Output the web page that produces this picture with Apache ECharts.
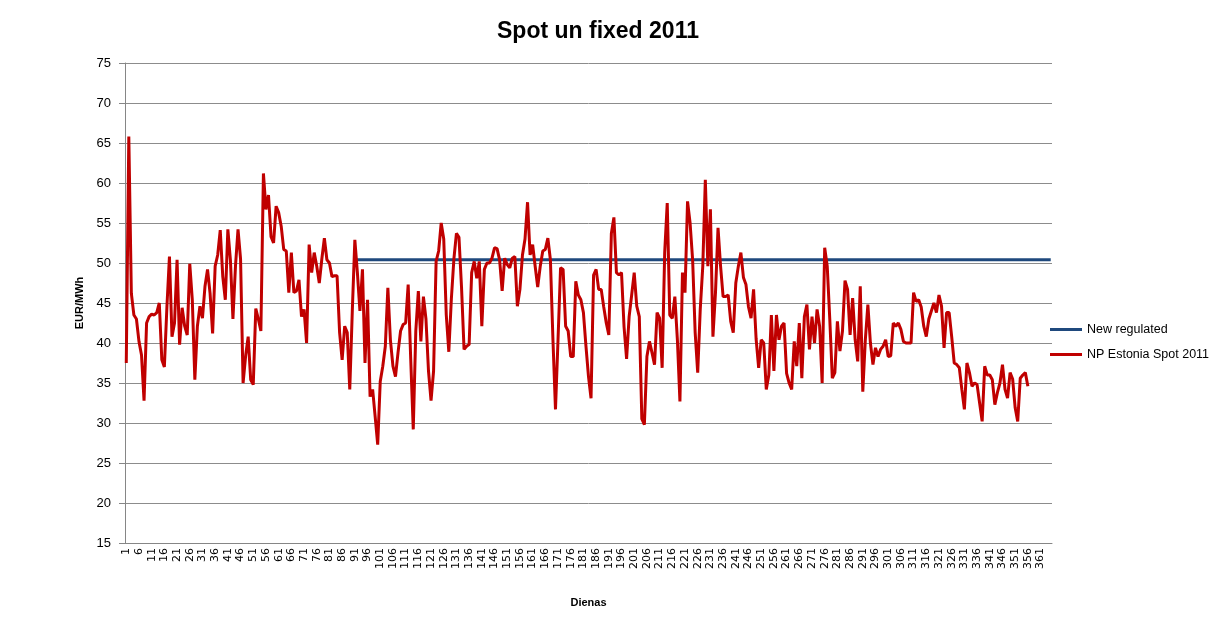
<!DOCTYPE html>
<html>
<head>
<meta charset="utf-8">
<title>Spot un fixed 2011</title>
<script src="https://cdn.jsdelivr.net/npm/echarts@6/dist/echarts.min.js"></script>
<style>
  html, body { margin: 0; padding: 0; background: #fff; }
  #main { width: 1218px; height: 619px; }
</style>
</head>
<body>
<div id="main"></div>
<script>
// dienas 1..365
var days = [];
for (var i = 1; i <= 365; i++) days.push(String(i));

// NP Estonia spot, EUR/MWh, day 1..356
var spot2011 = [
  37.5, 65.8, 46.2, 43.5, 43.0, 40.2, 38.5, 32.8, 42.5, 43.3,
  43.6, 43.5, 43.8, 45.0, 37.9, 37.0, 44.5, 50.8, 40.8, 42.5,
  50.4, 39.8, 44.4, 42.1, 41.0, 49.9, 45.4, 35.4, 42.1, 44.6,
  43.1, 47.1, 49.2, 46.2, 41.2, 49.6, 51.0, 54.1, 48.3, 45.4,
  54.2, 50.4, 43.0, 49.6, 54.2, 50.5, 35.0, 38.4, 40.8, 35.4,
  34.8, 44.3, 43.0, 41.5, 61.2, 56.7, 58.5, 53.3, 52.5, 57.1,
  56.3, 54.6, 51.7, 51.5, 46.3, 51.3, 46.3, 46.5, 47.9, 43.3,
  44.2, 40.0, 52.3, 48.8, 51.3, 49.6, 47.5, 50.5, 53.1, 50.4,
  50.0, 48.3, 48.4, 48.4, 41.3, 37.9, 42.1, 41.3, 34.2, 44.0,
  52.9, 48.8, 44.0, 49.2, 37.5, 45.4, 33.3, 34.2, 30.8, 27.3,
  35.2, 37.1, 39.6, 46.9, 40.4, 37.1, 35.8, 38.8, 41.5, 42.3,
  42.5, 47.3, 38.0, 29.2, 41.5, 46.5, 40.2, 45.8, 43.0, 36.5,
  32.8, 36.5, 50.2, 51.5, 55.0, 53.0, 43.5, 38.9, 45.5, 50.5,
  53.7, 53.2, 47.0, 39.2, 39.6, 39.8, 48.8, 50.2, 48.1, 50.2,
  42.1, 49.2, 50.0, 50.0, 50.6, 51.9, 51.8, 50.4, 46.5, 50.6,
  49.8, 49.4, 50.6, 50.8, 44.6, 46.7, 51.0, 53.0, 57.6, 51.0,
  52.3, 49.6, 47.0, 49.6, 51.5, 51.7, 53.1, 50.4, 40.4, 31.7,
  40.4, 49.4, 49.2, 42.1, 41.5, 38.3, 38.3, 47.7, 46.0, 45.4,
  43.8, 39.6, 35.8, 33.1, 48.5, 49.2, 46.7, 46.7, 44.5, 42.5,
  41.0, 53.7, 55.7, 48.8, 48.5, 48.8, 42.0, 38.0, 43.3, 46.0,
  48.8, 44.6, 43.3, 30.5, 29.8, 38.3, 40.2, 38.8, 37.3, 43.8,
  43.1, 36.9, 51.3, 57.5, 43.5, 43.1, 45.8, 40.4, 32.7, 48.8,
  46.3, 57.7, 55.0, 50.4, 41.3, 36.3, 44.2, 49.6, 60.4, 49.6,
  56.7, 40.8, 46.3, 54.4, 49.6, 45.8, 45.8, 46.0, 42.7, 41.3,
  47.5, 49.6, 51.3, 48.2, 47.3, 44.5, 43.1, 46.7, 40.5, 36.9,
  40.4, 40.0, 34.2, 36.0, 43.5, 36.5, 43.5, 40.4, 42.1, 42.5,
  36.2, 35.0, 34.2, 40.2, 37.1, 42.5, 35.6, 43.3, 44.8, 39.2,
  43.3, 40.0, 44.2, 42.1, 35.0, 51.9, 49.6, 43.0, 35.6, 36.3,
  42.7, 39.0, 41.5, 47.8, 46.7, 41.0, 45.6, 40.4, 37.7, 47.1,
  33.9, 40.4, 44.8, 40.0, 37.3, 39.4, 38.3, 39.2, 39.6, 40.4,
  38.3, 38.4, 42.5, 42.1, 42.5, 41.7, 40.2, 40.0, 40.0, 40.0,
  46.3, 45.2, 45.4, 44.5, 42.1, 40.8, 43.0, 44.0, 45.0, 43.8,
  46.0, 44.6, 39.4, 43.8, 43.8, 40.8, 37.5, 37.3, 36.9, 34.2,
  31.7, 37.5, 36.3, 34.6, 35.0, 34.8, 32.5, 30.2, 37.1, 36.0,
  36.0, 35.4, 32.3, 33.8, 35.0, 37.3, 34.2, 33.1, 36.3, 35.5,
  31.9, 30.2, 35.6, 36.0, 36.3, 34.6
];

// new regulated price, from day 91 to year end
var regulatedStart = 91;
var regulatedPrice = 50.4;

var regulated = days.map(function (d) {
  return Number(d) >= regulatedStart ? regulatedPrice : null;
});

var font = 'Liberation Sans, Arial, sans-serif';

var option = {
  backgroundColor: '#FFFFFF',
  animation: false,
  title: {
    text: 'Spot un fixed 2011',
    left: 492,
    top: 15,
    textStyle: { fontFamily: font, fontSize: 23, fontWeight: 'bold', color: '#000' }
  },
  legend: {
    orient: 'vertical',
    left: 1045,
    top: 318,
    itemWidth: 32,
    itemHeight: 3,
    itemGap: 12,
    icon: 'rect',
    textStyle: { fontFamily: font, fontSize: 12.5, color: '#000' },
    data: ['New regulated', 'NP Estonia Spot 2011']
  },
  grid: { left: 125, right: 166, top: 63, bottom: 76 },
  xAxis: {
    type: 'category',
    data: days,
    boundaryGap: true,
    name: 'Dienas',
    nameLocation: 'middle',
    nameGap: 54,
    nameTextStyle: { fontFamily: font, fontSize: 11, fontWeight: 'bold', color: '#000' },
    axisLine: { lineStyle: { color: '#868686' } },
    axisTick: { interval: 0, length: 3, lineStyle: { color: '#868686' } },
    axisLabel: {
      interval: 4,
      rotate: 90,
      margin: 5,
      fontFamily: 'DejaVu Sans, sans-serif',
      fontSize: 11,
      color: '#000'
    },
    splitLine: { show: false }
  },
  yAxis: {
    type: 'value',
    min: 15,
    max: 75,
    interval: 5,
    name: 'EUR/MWh',
    nameLocation: 'middle',
    nameGap: 29,
    nameRotate: 90,
    nameTextStyle: { fontFamily: font, fontSize: 11, fontWeight: 'bold', color: '#000' },
    axisLine: { show: true, lineStyle: { color: '#868686' } },
    axisTick: { show: true, length: 6, lineStyle: { color: '#868686' } },
    axisLabel: { margin: 14, fontFamily: font, fontSize: 13, color: '#000' },
    splitLine: { lineStyle: { color: '#8c8c8c', width: 1 } }
  },
  series: [
    {
      name: 'New regulated',
      type: 'line',
      data: regulated,
      symbol: 'none',
      color: '#1F497D',
      lineStyle: { width: 3, color: '#1F497D' }
    },
    {
      name: 'NP Estonia Spot 2011',
      type: 'line',
      data: spot2011,
      symbol: 'none',
      color: '#C00000',
      lineStyle: { width: 3, color: '#C00000' }
    }
  ]
};

var chart = echarts.init(document.getElementById('main'));
chart.setOption(option);
</script>
</body>
</html>
